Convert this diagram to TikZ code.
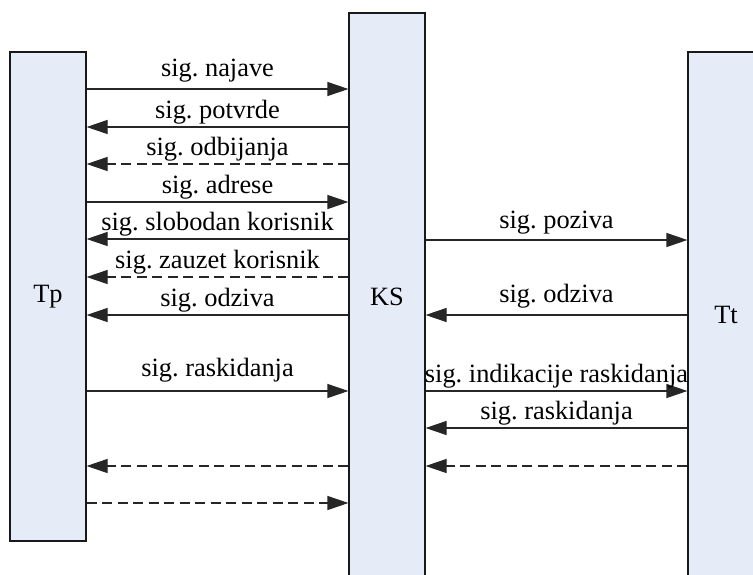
\documentclass[tikz,border=0pt]{standalone}
\usepackage{fontspec}
\setmainfont{Liberation Serif}
\usetikzlibrary{arrows.meta}
\definecolor{lifeblue}{RGB}{230,236,247}

\begin{document}
\begin{tikzpicture}[x=1pt, y=-1pt,
  font=\fontsize{26.4}{30}\selectfont\frenchspacing,
  lifeline/.style={draw=black!90, line width=1.2pt, fill=lifeblue, minimum width=76pt, inner sep=0pt},
  msg/.style={-{Triangle[length=21pt,width=14pt]}, line width=1.2pt, draw=black!85},
  reply/.style={msg, dash pattern=on 10pt off 5.5pt},
  lbl/.style={anchor=base, inner sep=0pt, yshift=#1},
  lbl/.default=8.3pt]

\clip (0,0) rectangle (753,574);

% lifelines
\node (tp)[lifeline, minimum height=489pt] at (48,296.5) {Tp};
\node (ks)[lifeline, minimum height=568pt] at (387,297) {KS};
\node (tt)[lifeline, minimum height=526pt] at (726,315) {Tt};

% Tp <-> KS
\draw[msg] (tp.east |- 0,89) -- node[lbl=12.7pt] {sig. najave} (ks.west |- 0,89);
\draw[msg] (ks.west |- 0,127) -- node[lbl] {sig. potvrde} (tp.east |- 0,127);
\draw[reply] (ks.west |- 0,164) -- node[lbl] {sig. odbijanja} (tp.east |- 0,164);
\draw[msg] (tp.east |- 0,202) -- node[lbl] {sig. adrese} (ks.west |- 0,202);
\draw[msg] (ks.west |- 0,239) -- node[lbl] {sig. slobodan korisnik} (tp.east |- 0,239);
\draw[reply] (ks.west |- 0,277) -- node[lbl] {sig. zauzet korisnik} (tp.east |- 0,277);
\draw[msg] (ks.west |- 0,315) -- node[lbl] {sig. odziva} (tp.east |- 0,315);
\draw[msg] (tp.east |- 0,391) -- node[lbl=14.7pt] {sig. raskidanja} (ks.west |- 0,391);
\draw[reply] (ks.west |- 0,466) -- (tp.east |- 0,466);
\draw[reply] (tp.east |- 0,503) -- (ks.west |- 0,503);

% KS <-> Tt
\draw[msg] (ks.east |- 0,240) -- node[lbl=11.3pt] {sig. poziva} (tt.west |- 0,240);
\draw[msg] (tt.west |- 0,315) -- node[lbl=13pt] {sig. odziva} (ks.east |- 0,315);
\draw[msg] (ks.east |- 0,391) -- node[lbl=9pt] {sig. indikacije raskidanja} (tt.west |- 0,391);
\draw[msg] (tt.west |- 0,428) -- node[lbl=8.7pt] {sig. raskidanja} (ks.east |- 0,428);
\draw[reply] (tt.west |- 0,466) -- (ks.east |- 0,466);
\end{tikzpicture}
\end{document}
